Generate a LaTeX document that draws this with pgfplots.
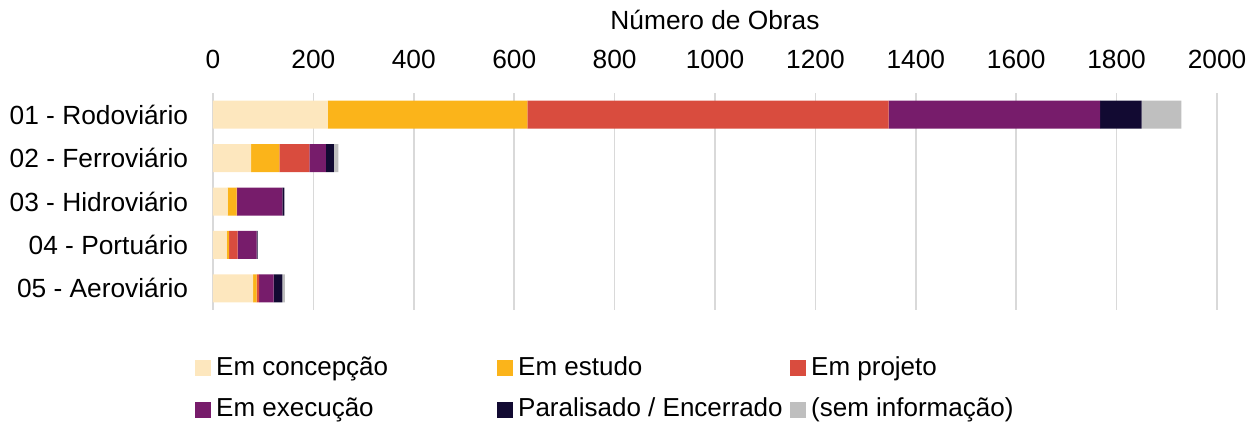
\documentclass[border=0pt]{standalone}
\usepackage{pgfplots}
\pgfplotsset{compat=1.18}
\usepackage{pgfplotstable}
\usepackage{fontspec}
\setmainfont{Liberation Sans}
\definecolor{cConc}{HTML}{FDE7BE}
\definecolor{cEst}{HTML}{FBB41A}
\definecolor{cProj}{HTML}{D94C3E}
\definecolor{cExec}{HTML}{771C6B}
\definecolor{cPar}{HTML}{120A32}
\definecolor{cSem}{HTML}{BFBFBF}
\definecolor{cGrid}{HTML}{D9D9D9}
\pgfplotstableread{
y conc est proj exec par sem
1 229 397 720 421 83 79
2 76 56 60 33 16 9
3 29 18 1 90 4 0
4 27 5 17 38 2 0
5 80 7 5 29 17 5
}\datatable
\begin{document}
\fontsize{26.3pt}{31pt}\selectfont
\begin{tikzpicture}
\path[use as bounding box] (-213pt,-118pt) rectangle (1044pt,310pt);
\begin{axis}[
  name=ax,
  at={(0pt,0pt)}, anchor=south west,
  scale only axis,
  width=1004pt, height=217pt,
  xbar stacked,
  bar width=28pt,
  xmin=0, xmax=2000,
  ymin=0.5, ymax=5.5,
  y dir=reverse,
  xtick={0,200,...,2000},
  ytick={1,2,3,4,5},
  yticklabels={01 - Rodoviário,02 - Ferroviário,03 - Hidroviário,04 - Portuário,05 - Aeroviário},
  xticklabel pos=upper,
  axis line style={draw=none},
  major tick length=0pt,
  xmajorgrids,
  major grid style={cGrid, line width=1.5pt},
  /pgf/number format/assume math mode=true,
  /pgf/number format/1000 sep={},
  tick label style={font=\fontsize{26.3pt}{31pt}\selectfont},
  xticklabel style={anchor=base, yshift=25pt},
  yticklabel style={anchor=east, xshift=-16pt},
  xlabel={Número de Obras},
  xlabel style={at={(axis description cs:0.5,1)}, anchor=base, yshift=64pt, font=\fontsize{26.3pt}{31pt}\selectfont},
  legend columns=3,
  legend cell align=left,
  legend image code/.code={\fill[#1] (0pt,-1pt) rectangle (16pt,15pt);},
  legend style={draw=none, fill=none, inner sep=0pt,
    at={(axis description cs:0,0)}, anchor=north west, xshift=-18pt, yshift=-46pt,
    font=\fontsize{26pt}{31pt}\selectfont,
    nodes={inner sep=0pt, anchor=base west},
    row sep=19pt,
    /tikz/every odd column/.append style={column sep=5pt}},
]
\addplot[fill=cConc, draw=none] table[x=conc, y=y] {\datatable};
\addlegendentry{\makebox[281pt][l]{Em concepção}}
\addplot[fill=cEst, draw=none] table[x=est, y=y] {\datatable};
\addlegendentry{\makebox[272pt][l]{Em estudo}}
\addplot[fill=cProj, draw=none] table[x=proj, y=y] {\datatable};
\addlegendentry{Em projeto}
\addplot[fill=cExec, draw=none] table[x=exec, y=y] {\datatable};
\addlegendentry{\makebox[281pt][l]{Em execução}}
\addplot[fill=cPar, draw=none] table[x=par, y=y] {\datatable};
\addlegendentry{\makebox[272pt][l]{Paralisado / Encerrado}}
\addplot[fill=cSem, draw=none] table[x=sem, y=y] {\datatable};
\addlegendentry{(sem informação)}
\end{axis}
\end{tikzpicture}
\end{document}
